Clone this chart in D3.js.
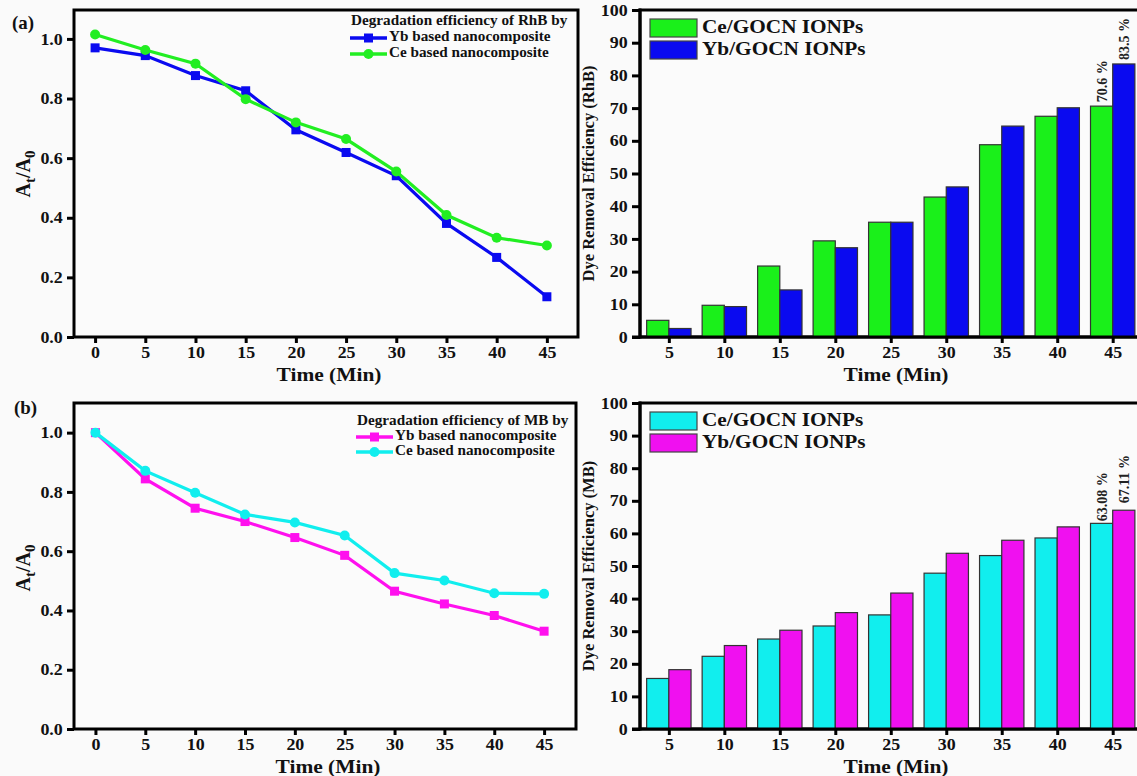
<!DOCTYPE html>
<html><head><meta charset="utf-8">
<script src="https://cdn.jsdelivr.net/npm/d3@7"></script>
<style>
html,body{margin:0;padding:0;background:#fafafa;}
svg{display:block;font-family:"Liberation Serif","Times New Roman",serif;}
svg text{font-family:"Liberation Serif","Times New Roman",serif;}
</style></head>
<body>
<svg id="chart" width="1137" height="776"></svg>
<script>
// ---- data ----
const times = [0,5,10,15,20,25,30,35,40,45];
const rhbYb = [0.970,0.944,0.877,0.826,0.695,0.619,0.541,0.381,0.267,0.135];
const rhbCe = [1.015,0.963,0.917,0.798,0.720,0.664,0.555,0.409,0.333,0.307];
const mbYb  = [1.000,0.844,0.745,0.700,0.646,0.586,0.465,0.422,0.383,0.330];
const mbCe  = [1.000,0.871,0.797,0.724,0.697,0.653,0.526,0.501,0.458,0.456];
const lineYTicks = [0,0.2,0.4,0.6,0.8,1.0];

const barTimes = [5,10,15,20,25,30,35,40,45];
const rhbCeRemoval = [5.1,9.7,21.7,29.4,35.1,42.8,58.8,67.5,70.6];
const rhbYbRemoval = [2.6,9.3,14.4,27.3,35.1,45.9,64.5,70.1,83.5];
const mbCeRemoval  = [15.5,22.3,27.6,31.6,35.0,47.8,53.2,58.6,63.08];
const mbYbRemoval  = [18.2,25.6,30.3,35.7,41.7,53.9,57.9,62.0,67.11];
const barYTicks = [0,10,20,30,40,50,60,70,80,90,100];
const rhbAnnot = ["70.6 %","83.5 %"];
const mbAnnot  = ["63.08 %","67.11 %"];

const svg = d3.select("#chart");
const SX = 1.12; // horizontal stretch of lettering, as in the reference figure

function txt(g, x, y, s, size, opts={}){
  return g.append("text")
    .attr("transform",`translate(${x},${y}) scale(${opts.sx||SX},1)`)
    .attr("font-weight",opts.weight||"bold").attr("font-size",size)
    .attr("text-anchor",opts.anchor||"start")
    .attr("dominant-baseline",opts.baseline||"auto")
    .attr("fill",opts.fill||"#111").text(s);
}
function styleAxis(a, size){
  a.attr("font-family",null);
  a.select(".domain").remove();
  a.selectAll(".tick line").attr("stroke","#000").attr("stroke-width",3);
  a.selectAll("text").attr("font-weight","bold").attr("font-size",size).attr("fill","#111")
    .attr("transform",`scale(${SX},1)`);
}

function linePanel(o){
  const g = svg.append("g");
  const x = d3.scaleLinear().domain(o.xDom).range([o.left,o.right]);
  const y = d3.scaleLinear().domain(o.yDom).range([o.bottom,o.top]);
  g.append("rect").attr("x",o.left).attr("y",o.top).attr("width",o.right-o.left).attr("height",o.bottom-o.top)
    .attr("fill","#fbfbfb").attr("stroke","#000").attr("stroke-width",3);
  const ya = g.append("g").attr("transform",`translate(${o.left},0)`)
    .call(d3.axisLeft(y).tickValues(lineYTicks).tickFormat(d3.format(".1f")).tickSize(7).tickPadding(3));
  const xa = g.append("g").attr("transform",`translate(0,${o.bottom})`)
    .call(d3.axisBottom(x).tickValues(times).tickSize(6).tickPadding(4));
  styleAxis(ya,16); styleAxis(xa,16);
  const ln = d3.line().x((d,i)=>x(times[i])).y(d=>y(d));
  o.series.forEach(s=>{
    g.append("path").datum(s.values).attr("d",ln).attr("fill","none").attr("stroke",s.color).attr("stroke-width",3.2);
    if(s.shape==="square"){
      g.selectAll(null).data(s.values).enter().append("rect")
        .attr("x",(d,i)=>x(times[i])-4.5).attr("y",d=>y(d)-4.5).attr("width",9).attr("height",9).attr("fill",s.color);
    } else {
      g.selectAll(null).data(s.values).enter().append("circle")
        .attr("cx",(d,i)=>x(times[i])).attr("cy",d=>y(d)).attr("r",5).attr("fill",s.color);
    }
  });
  const L = o.legend;
  txt(g, L.titleX, L.titleY, L.title, 13.6, {baseline:"middle"});
  o.series.forEach((s,i)=>{
    const yy = L.rowY[i];
    g.append("line").attr("x1",L.lineX1).attr("x2",L.lineX2).attr("y1",yy).attr("y2",yy).attr("stroke",s.color).attr("stroke-width",3.5);
    const mx=(L.lineX1+L.lineX2)/2;
    if(s.shape==="square") g.append("rect").attr("x",mx-4.5).attr("y",yy-4.5).attr("width",9).attr("height",9).attr("fill",s.color);
    else g.append("circle").attr("cx",mx).attr("cy",yy).attr("r",5).attr("fill",s.color);
    txt(g, L.lineX2+2, yy, s.name, 13.6, {baseline:"middle"});
  });
  txt(g, (o.left+o.right)/2+3, o.bottom+44, "Time (Min)", 19.5, {anchor:"middle", sx:1.1});
  const yt = g.append("text").attr("transform",`translate(${o.yTitleX},${o.yTitleY}) rotate(-90)`).attr("text-anchor","middle")
    .attr("font-weight","bold").attr("font-size",20).attr("fill","#111");
  yt.append("tspan").text("A");
  yt.append("tspan").attr("font-size",15).attr("dy",5).text("t");
  yt.append("tspan").attr("dy",-5).text("/A");
  yt.append("tspan").attr("font-size",15).attr("dy",5).text("0");
  txt(g, o.tagX, o.tagY, o.tag, 18, {baseline:"middle", sx:1.05});
}

function barPanel(o){
  const g = svg.append("g");
  const x = d3.scaleLinear().domain([2.4,47.1]).range([o.left,o.right]);
  const y = d3.scaleLinear().domain([0,100]).range([o.bottom,o.top]);
  const bw = 2;
  g.append("rect").attr("x",o.left).attr("y",o.top).attr("width",o.right-o.left+4).attr("height",o.bottom-o.top)
    .attr("fill","#fbfbfb").attr("stroke","#000").attr("stroke-width",3);
  o.series.forEach((s,k)=>{
    g.selectAll(null).data(s.values).enter().append("rect")
      .attr("x",(d,i)=>x(barTimes[i]+(k===0?-bw:0)))
      .attr("y",d=>y(d)).attr("width",x(bw)-x(0)).attr("height",d=>y(0)-y(d))
      .attr("fill",s.color).attr("stroke","#333").attr("stroke-width",1.2);
  });
  const last = barTimes.length-1;
  o.series.forEach((s,k)=>{
    const cx = x(barTimes[last]+(k===0?-bw/2:bw/2));
    const top = y(s.values[last]) - o.annotGap[k];
    g.append("text").attr("transform",`translate(${cx+5},${top}) rotate(-90)`)
      .attr("font-size",14).attr("font-weight","bold").attr("fill","#222").text(o.annot[k]);
  });
  const ya = g.append("g").attr("transform",`translate(${o.left},0)`)
    .call(d3.axisLeft(y).tickValues(barYTicks).tickSize(8).tickPadding(3));
  const xa = g.append("g").attr("transform",`translate(0,${o.bottom})`)
    .call(d3.axisBottom(x).tickValues(barTimes).tickSize(6).tickPadding(4));
  styleAxis(ya,16); styleAxis(xa,16);
  g.append("line").attr("x1",o.left).attr("x2",o.left).attr("y1",o.top-1.5).attr("y2",o.bottom+1.5).attr("stroke","#000").attr("stroke-width",3);
  g.append("line").attr("x1",o.left-8).attr("x2",o.right+4).attr("y1",o.bottom).attr("y2",o.bottom).attr("stroke","#000").attr("stroke-width",3);
  o.series.forEach((s,k)=>{
    const yy = o.top + 9 + k*22;
    g.append("rect").attr("x",o.left+10).attr("y",yy).attr("width",47).attr("height",18)
      .attr("fill",s.color).attr("stroke","#444").attr("stroke-width",1.2);
    txt(g, o.left+62, yy+10, s.name, 19, {baseline:"middle"});
  });
  txt(g, (o.left+o.right)/2+8, o.bottom+44, "Time (Min)", 19.5, {anchor:"middle", sx:1.1});
  g.append("text").attr("transform",`translate(${o.left-46},${(o.top+o.bottom)/2}) rotate(-90)`).attr("text-anchor","middle")
    .attr("font-weight","bold").attr("font-size",16.5).attr("fill","#111").text(o.yTitle);
}

linePanel({left:74,right:578,top:10,bottom:337,xDom:[-2.1,48.1],yDom:[0,1.097],
  series:[{name:"Yb based nanocomposite",values:rhbYb,color:"#0a0af0",shape:"square"},
          {name:"Ce based nanocomposite",values:rhbCe,color:"#22ee22",shape:"circle"}],
  legend:{title:"Degradation efficiency of RhB by",titleX:351,titleY:22,lineX1:350,lineX2:387,rowY:[38,54]},
  yTitleX:30,yTitleY:174,tag:"(a)",tagX:12,tagY:25});
linePanel({left:74,right:576,top:403,bottom:729,xDom:[-2.15,48.2],yDom:[0,1.1],
  series:[{name:"Yb based nanocomposite",values:mbYb,color:"#ff10ee",shape:"square"},
          {name:"Ce based nanocomposite",values:mbCe,color:"#11eeee",shape:"circle"}],
  legend:{title:"Degradation efficiency of MB by",titleX:357,titleY:422,lineX1:356,lineX2:393,rowY:[437,452]},
  yTitleX:30,yTitleY:568,tag:"(b)",tagX:14,tagY:410});
barPanel({left:640,right:1136,top:10,bottom:337,yTitle:"Dye Removal Efficiency (RhB)",
  series:[{name:"Ce/GOCN IONPs",values:rhbCeRemoval,color:"#1af01a"},
          {name:"Yb/GOCN IONPs",values:rhbYbRemoval,color:"#0a0af0"}],
  annot:rhbAnnot,annotGap:[4,4]});
barPanel({left:640,right:1136,top:403,bottom:729,yTitle:"Dye Removal Efficiency (MB)",
  series:[{name:"Ce/GOCN IONPs",values:mbCeRemoval,color:"#11eeee"},
          {name:"Yb/GOCN IONPs",values:mbYbRemoval,color:"#f010f0"}],
  annot:mbAnnot,annotGap:[2,7]});
</script>
</body></html>
